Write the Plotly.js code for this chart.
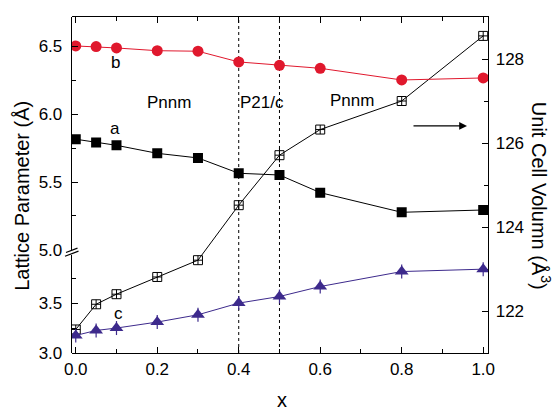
<!DOCTYPE html>
<html>
<head>
<meta charset="utf-8">
<script src="https://cdn.plot.ly/plotly-3.0.1.min.js"></script>
<style>html,body{margin:0;padding:0;background:#fff;}#plot{width:555px;height:414px;}</style>
</head>
<body>
<div id="plot"></div>
<script>
// Composition x
var xVals = [0, 0.05, 0.1, 0.2, 0.3, 0.4, 0.5, 0.6, 0.8, 1.0];
// Lattice parameter b (Å)
var bVals = [6.504, 6.499, 6.489, 6.469, 6.465, 6.386, 6.361, 6.339, 6.253, 6.268];
// Lattice parameter a (Å)
var aVals = [5.816, 5.791, 5.771, 5.712, 5.678, 5.565, 5.552, 5.422, 5.277, 5.294];
// Lattice parameter c (Å)
var cVals = [3.176, 3.226, 3.250, 3.310, 3.383, 3.500, 3.566, 3.666, 3.816, 3.840];
var cErr  = [0.07, 0.07, 0.07, 0.07, 0.07, 0.07, 0.07, 0.07, 0.07, 0.07];
// Unit cell volume (Å^3)
var vVals = [121.56, 122.16, 122.40, 122.81, 123.21, 124.52, 125.71, 126.32, 127.00, 128.55];
var vErr  = [0, 0, 0, 0, 0, 0, 0.17, 0, 0, 0];

var FONT = 'Liberation Sans, Arial, sans-serif';
var L = 72, R = 488, T = 17, B = 353.3;
function px(x){ return (x - L) / (R - L); }
function py(y){ return (B - y) / (B - T); }
function label(x, y, text, size, angle){
  return {xref: 'paper', yref: 'paper', x: px(x), y: py(y), text: text, showarrow: false,
          xanchor: 'center', yanchor: 'middle', textangle: angle || 0, font: {size: size}};
}

var traces = [
  {x: xVals, y: vVals, yaxis: 'y', type: 'scatter', mode: 'lines+markers',
   line: {color: '#000', width: 1},
   error_y: {type: 'data', array: vErr, visible: true, color: '#000', thickness: 1, width: 0},
   marker: {symbol: 'square-cross-open', size: 9, color: '#000', line: {width: 1, color: '#000'}}},
  {x: xVals, y: cVals, yaxis: 'y2', type: 'scatter', mode: 'lines+markers',
   line: {color: '#3d2a8c', width: 1},
   error_y: {type: 'data', array: cErr, visible: true, color: '#3d2a8c', thickness: 1.2, width: 0},
   marker: {symbol: 'triangle-up', size: 12, color: '#3d2a8c'}},
  {x: xVals, y: aVals, yaxis: 'y3', type: 'scatter', mode: 'lines+markers',
   line: {color: '#000', width: 1},
   marker: {symbol: 'square', size: 10, color: '#000'}},
  {x: xVals, y: bVals, yaxis: 'y3', type: 'scatter', mode: 'lines+markers',
   line: {color: '#e0182d', width: 1},
   marker: {symbol: 'circle', size: 11, color: '#e0182d'}}
];

var tickfont = {family: FONT, size: 17, color: '#000'};

var layout = {
  width: 555, height: 414,
  margin: {l: L, r: 555 - R, t: T, b: 414 - B, pad: 0},
  paper_bgcolor: '#fff', plot_bgcolor: 'rgba(0,0,0,0)',
  showlegend: false,
  font: {family: FONT, size: 17, color: '#000'},
  xaxis: {
    range: [-0.0092, 1.0118], anchor: 'y', domain: [0, 1],
    showgrid: false, zeroline: false,
    showline: true, linecolor: '#000', linewidth: 1.3, mirror: 'ticks',
    ticks: 'inside', ticklen: 6, tickwidth: 1, tickcolor: '#000',
    tickmode: 'linear', tick0: 0, dtick: 0.2, tickformat: '.1f',
    minor: {dtick: 0.1, ticks: 'inside', ticklen: 4, tickcolor: '#000', showgrid: false},
    tickfont: tickfont
  },
  yaxis: {
    range: [121, 129], domain: [0, 1], side: 'right', anchor: 'x',
    showgrid: false, zeroline: false,
    showline: true, linecolor: '#000', linewidth: 1.3,
    ticks: 'inside', ticklen: 6, tickcolor: '#000', ticklabelstandoff: 3,
    tickmode: 'linear', tick0: 122, dtick: 2,
    minor: {dtick: 1, ticks: 'inside', ticklen: 4, tickcolor: '#000', showgrid: false},
    tickfont: tickfont
  },
  yaxis2: {
    range: [3.0, 3.983], domain: [0, 0.292], side: 'left', anchor: 'x',
    showgrid: false, zeroline: false,
    showline: true, linecolor: '#000', linewidth: 1.3,
    ticks: 'inside', ticklen: 6, tickcolor: '#000', ticklabelstandoff: 5,
    tickmode: 'array', tickvals: [3.0, 3.5], ticktext: ['3.0', '3.5'],
    minor: {tickvals: [3.25, 3.75], ticks: 'inside', ticklen: 4, tickcolor: '#000', showgrid: false},
    tickfont: tickfont
  },
  yaxis3: {
    range: [5.0, 6.7175], domain: [0.307, 1], side: 'left', anchor: 'x',
    showgrid: false, zeroline: false,
    showline: true, linecolor: '#000', linewidth: 1.3,
    ticks: 'inside', ticklen: 6, tickcolor: '#000', ticklabelstandoff: 5,
    tickmode: 'array', tickvals: [5.0, 5.5, 6.0, 6.5], ticktext: ['5.0', '5.5', '6.0', '6.5'],
    minor: {tickvals: [5.25, 5.75, 6.25], ticks: 'inside', ticklen: 4, tickcolor: '#000', showgrid: false},
    tickfont: tickfont
  },
  shapes: [
    {type: 'line', xref: 'x', yref: 'paper', x0: 0.4, x1: 0.4, y0: 0, y1: 1, layer: 'below',
     line: {color: '#000', width: 1, dash: 'dot'}},
    {type: 'line', xref: 'x', yref: 'paper', x0: 0.5, x1: 0.5, y0: 0, y1: 1, layer: 'below',
     line: {color: '#000', width: 1, dash: 'dot'}},
    {type: 'line', xref: 'paper', yref: 'paper', x0: px(66), y0: py(252.7), x1: px(77.5), y1: py(248.3),
     line: {color: '#000', width: 1.2}},
    {type: 'line', xref: 'paper', yref: 'paper', x0: px(65), y0: py(256.5), x1: px(78.5), y1: py(251.3),
     line: {color: '#000', width: 1.2}}
  ],
  annotations: [
    label(115, 63, 'b', 17),
    label(115, 129, 'a', 17),
    label(118, 314, 'c', 17),
    label(169, 103, 'Pnnm', 17),
    label(262, 103, 'P21/c', 17),
    label(352, 101, 'Pnnm', 17),
    {xref: 'paper', yref: 'paper', axref: 'pixel', ayref: 'pixel', x: px(467), y: py(126), ax: -55, ay: 0,
     text: '', showarrow: true, arrowhead: 2, arrowsize: 1.3, arrowwidth: 1.2, arrowcolor: '#000'},
    label(22, 196, 'Lattice Parameter (Å)', 20, -90),
    label(541, 196, 'Unit Cell Volumn (Å<sup>3</sup>)', 20, 90),
    label(282, 400, 'x', 20)
  ]
};

Plotly.newPlot('plot', traces, layout, {displayModeBar: false, staticPlot: true});
</script>
</body>
</html>
